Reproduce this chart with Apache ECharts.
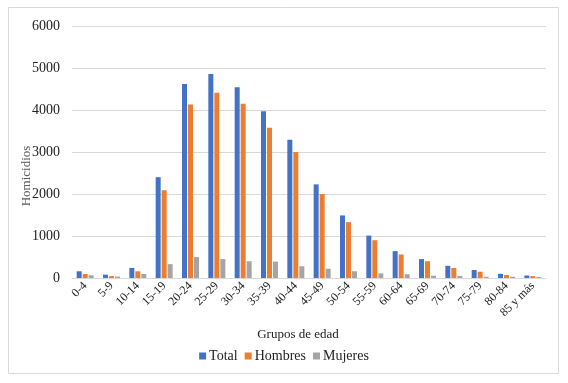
<!DOCTYPE html>
<html>
<head>
<meta charset="utf-8">
<script src="https://cdn.jsdelivr.net/npm/echarts@6/dist/echarts.min.js"></script>
<style>
  html, body { margin: 0; padding: 0; background: #fff; }
  #chart { width: 568px; height: 383px; }
</style>
</head>
<body>
<div id="chart"></div>
<script>
// grupos de edad y homicidios
var categorias = ['0-4', '5-9', '10-14', '15-19', '20-24', '25-29', '30-34', '35-39', '40-44',
    '45-49', '50-54', '55-59', '60-64', '65-69', '70-74', '75-79', '80-84', '85 y más'];
var total = [160, 80, 240, 2400, 4620, 4860, 4540, 3970, 3290, 2230, 1490, 1010, 640, 450, 290, 190, 100, 60];
var hombres = [95, 45, 160, 2090, 4130, 4410, 4150, 3580, 3000, 2000, 1330, 900, 560, 400, 240, 150, 70, 45];
var mujeres = [65, 35, 95, 330, 500, 450, 400, 390, 280, 220, 160, 110, 90, 55, 50, 30, 30, 25];

var fuente = '"Liberation Serif", "Times New Roman", serif';
var myChart = echarts.init(document.getElementById('chart'));

var option = {
    animation: false,
    textStyle: { fontFamily: fuente },
    grid: { left: 72, right: 22, top: 26, bottom: 105 },
    legend: {
        data: ['Total', 'Hombres', 'Mujeres'],
        bottom: 15,
        left: 'center',
        itemWidth: 7,
        itemHeight: 7,
        itemGap: 7,
        icon: 'rect',
        textStyle: { fontFamily: fuente, fontSize: 14, color: '#222', padding: [0, 0, 0, -2] }
    },
    graphic: [
        {
            type: 'text', x: 298, y: 335,
            style: { text: 'Grupos de edad', font: '13px ' + fuente, fill: '#222', align: 'center', verticalAlign: 'middle' }
        },
        {
            type: 'text', x: 27, y: 176, rotation: Math.PI / 2,
            style: { text: 'Homicidios', font: '13px ' + fuente, fill: '#595959', align: 'center', verticalAlign: 'middle' }
        },
        {
            type: 'rect', shape: { x: 8.5, y: 7.5, width: 550, height: 366 },
            style: { fill: 'none', stroke: '#d9d9d9', lineWidth: 1 }
        }
    ],
    xAxis: {
        type: 'category',
        data: categorias,
        axisLine: { lineStyle: { color: '#d9d9d9' } },
        axisTick: { show: false },
        axisLabel: { rotate: 45, interval: 0, fontSize: 12, fontFamily: fuente, color: '#222', margin: 6 }
    },
    yAxis: {
        type: 'value',
        min: 0,
        max: 6000,
        interval: 1000,
        axisLine: { show: false },
        axisTick: { show: false },
        axisLabel: {
            fontSize: 14, fontFamily: fuente, color: '#222', margin: 12,
            formatter: function (v) { return String(v); }
        },
        splitLine: { lineStyle: { color: '#d9d9d9' } }
    },
    series: [
        { name: 'Total', type: 'bar', data: total, barWidth: 5, barGap: '20%', itemStyle: { color: '#4472C4' } },
        { name: 'Hombres', type: 'bar', data: hombres, barWidth: 5, barGap: '20%', itemStyle: { color: '#ED7D31' } },
        { name: 'Mujeres', type: 'bar', data: mujeres, barWidth: 5, barGap: '20%', itemStyle: { color: '#A5A5A5' } }
    ]
};

myChart.setOption(option);
</script>
</body>
</html>
